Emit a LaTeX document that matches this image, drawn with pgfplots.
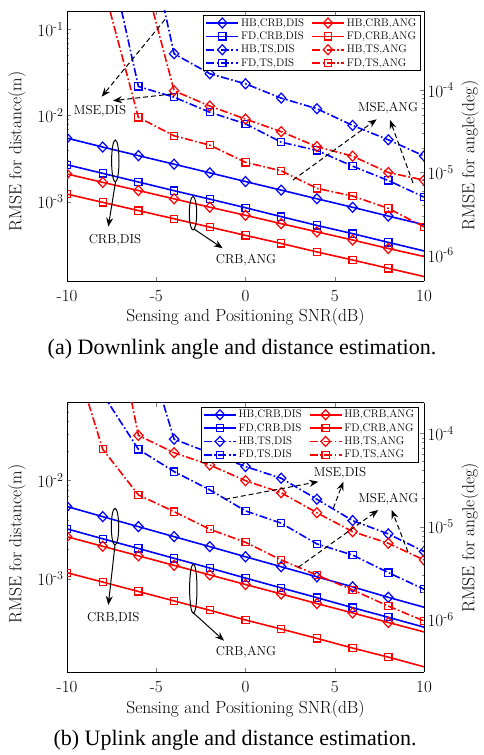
\documentclass[border=0pt]{standalone}
\usepackage{pgfplots}
\pgfplotsset{compat=1.18}
\usepackage{amsmath}
\usepackage{fontspec}
\newfontfamily\timesfont{Liberation Serif}
\usetikzlibrary{arrows.meta}
\tikzset{
 crb/.style={line width=1.6pt, solid},
 ts/.style={line width=1.6pt, dash pattern=on 8pt off 2.5pt on 1.6pt off 2.5pt},
 dm/.style={mark=diamond, mark size=5pt, mark options={solid, line width=1.2pt, xscale=1.25}},
 sq/.style={mark=square, mark size=3.6pt, mark options={solid, line width=1.2pt}},
 ann/.style={font=\fontsize{13}{15}\selectfont},
 sarr/.style={line width=1pt, -{Stealth[length=9pt,width=7pt,inset=3pt]}},
 darr/.style={line width=1pt, dash pattern=on 5pt off 3pt, -{Stealth[length=9pt,width=7pt,inset=3pt]}},
}
\newcommand{\ep}[1]{$10^{\text{-}#1}$}
\begin{document}
\begin{tikzpicture}[x=1pt,y=1pt]
\useasboundingbox (0,0) rectangle (483,755);

% ================= (a) =================
\begin{axis}[scale only axis, width=357pt, height=270pt, xmin=-10, xmax=10, ymode=log,
   clip marker paths=true, tick align=inside, major tick length=4pt, minor tick length=2.3pt,
   axis line style={line width=0.8pt},
   tick label style={font=\fontsize{17}{19}\selectfont},
   label style={font=\fontsize{17.5}{20}\selectfont},
   axis y line*=left, xtick={-10,-5,0,5,10}, xticklabels={-10,-5,0,5,10}, xticklabel style={yshift=-6pt},
   ytick={1e-3,1e-2,1e-1}, yticklabels={\ep{3},\ep{2},\ep{1}},
   xlabel={Sensing and Positioning SNR(dB)}, ylabel={RMSE for distance(m)},
   xlabel style={at={(axis description cs:0.5,0)}, anchor=center, yshift=-36pt},
   at={(67pt,474pt)}, anchor=south west, ymin=1.2e-4, ymax=0.163,
   ylabel style={at={(axis description cs:-0.14,0.48)}, anchor=center}]
\addplot[blue, crb, dm, mark indices={1,2,3,4,5,6,7,8,9,10}] coordinates {(-10,5.46e-3) (-8,4.3e-3) (-6,3.42e-3) (-4,2.72e-3) (-2,2.16e-3) (0,1.71e-3) (2,1.36e-3) (4,1.08e-3) (6,8.6e-4) (8,6.8e-4) (10,5.4e-4)};
\addplot[blue, crb, sq, mark indices={1,2,3,4,5,6,7,8,9,10}] coordinates {(-10,2.68e-3) (-8,2.13e-3) (-6,1.69e-3) (-4,1.34e-3) (-2,1.07e-3) (0,8.5e-4) (2,6.7e-4) (4,5.3e-4) (6,4.25e-4) (8,3.37e-4) (10,2.68e-4)};
\addplot[blue, ts, dm, mark indices={1,2,3,4,5,6,7,8}] coordinates {(-6,4.0) (-4,0.052) (-2,0.0305) (0,0.0233) (2,0.0159) (4,0.01197) (6,7.66e-3) (8,5.22e-3) (10,3.39e-3)};
\addplot[blue, ts, sq, mark indices={1,2,3,4,5,6,7,8,9}] coordinates {(-8,1.6) (-6,0.0217) (-4,0.0163) (-2,0.0109) (0,8.0e-3) (2,4.9e-3) (4,3.93e-3) (6,2.58e-3) (8,1.76e-3) (10,1.13e-3)};
\end{axis}
\begin{axis}[scale only axis, width=357pt, height=270pt, xmin=-10, xmax=10, ymode=log,
   clip marker paths=true, tick align=inside, major tick length=4pt, minor tick length=2.3pt,
   axis line style={line width=0.8pt},
   tick label style={font=\fontsize{17}{19}\selectfont},
   label style={font=\fontsize{17.5}{20}\selectfont},
   axis x line=none, axis y line*=right, ylabel={RMSE for angle(deg)},
   ytick={1e-6,1e-5,1e-4}, yticklabels={\ep{6},\ep{5},\ep{4}},
   legend columns=2, legend cell align=left,
   legend style={font=\fontsize{11}{12}\selectfont, draw=black, line width=0.6pt, fill=white,
     inner xsep=2pt, inner ysep=1pt, /tikz/every even column/.append style={column sep=5pt},
     at={(axis description cs:0.9908,0.985)}, anchor=north east},
   legend image code/.code={\draw[mark repeat=2,mark phase=2,#1] plot coordinates {(0pt,0pt) (16pt,0pt) (32pt,0pt)};},
   at={(67pt,474pt)}, anchor=south west, ymin=4.84e-7, ymax=9.1e-4,
   ylabel style={at={(axis description cs:1.129,0.465)}, anchor=center}]
\addplot[red, crb, dm, forget plot, mark indices={1,2,3,4,5,6,7,8,9,10}] coordinates {(-10,9.6e-6) (-8,7.6e-6) (-6,6.05e-6) (-4,4.8e-6) (-2,3.8e-6) (0,3.03e-6) (2,2.4e-6) (4,1.91e-6) (6,1.52e-6) (8,1.2e-6) (10,9.6e-7)};
\addplot[red, crb, sq, forget plot, mark indices={1,2,3,4,5,6,7,8,9,10}] coordinates {(-10,5.48e-6) (-8,4.35e-6) (-6,3.46e-6) (-4,2.75e-6) (-2,2.18e-6) (0,1.73e-6) (2,1.38e-6) (4,1.09e-6) (6,8.7e-7) (8,6.9e-7) (10,5.48e-7)};
\addplot[red, ts, dm, forget plot, mark indices={1,2,3,4,5,6,7,8}] coordinates {(-6,4.3e-3) (-4,9.8e-5) (-2,6.4e-5) (0,4.45e-5) (2,3.13e-5) (4,2.06e-5) (6,1.58e-5) (8,1.0e-5) (10,8.1e-6)};
\addplot[red, ts, sq, forget plot, mark indices={1,2,3,4,5,6,7,8,9}] coordinates {(-8,1.95e-3) (-6,4.67e-5) (-4,2.79e-5) (-2,2.15e-5) (0,1.33e-5) (2,1.05e-5) (4,6.43e-6) (6,5.19e-6) (8,3.68e-6) (10,2.2e-6)};
\addlegendimage{blue, crb, dm}\addlegendentry{HB,CRB,DIS}
\addlegendimage{red, crb, dm}\addlegendentry{HB,CRB,ANG}
\addlegendimage{blue, crb, sq}\addlegendentry{FD,CRB,DIS}
\addlegendimage{red, crb, sq}\addlegendentry{FD,CRB,ANG}
\addlegendimage{blue, ts, dm}\addlegendentry{HB,TS,DIS}
\addlegendimage{red, ts, dm}\addlegendentry{HB,TS,ANG}
\addlegendimage{blue, ts, sq}\addlegendentry{FD,TS,DIS}
\addlegendimage{red, ts, sq}\addlegendentry{FD,TS,ANG}
\end{axis}

% annotations (a)
\draw[line width=1pt] (115.3,594) ellipse (3.7 and 21);
\draw[sarr] (115.5,573) -- (108.3,528.3);
\node[ann] at (115,515) {CRB,DIS};
\draw[line width=1pt] (193,541.7) ellipse (3.7 and 16.7);
\draw[sarr] (194,526) -- (222.7,506.7);
\node[ann] at (246,495) {CRB,ANG};
\node[ann] at (100,644) {MSE,DIS};
\draw[darr] (165,735.5) -- (101.7,658.3);
\draw[darr] (172,661) -- (113,654.3);
\node[ann] at (388,647) {MSE,ANG};
\draw[darr] (293,575) -- (376.7,635.7);
\draw[darr] (413,572) -- (390,635);
\node[font=\timesfont\fontsize{22}{24}\selectfont] at (242,406) {(a) Downlink angle and distance estimation.};

% ================= (b) =================
\begin{axis}[scale only axis, width=357pt, height=269.3pt, xmin=-10, xmax=10, ymode=log,
   clip marker paths=true, tick align=inside, major tick length=4pt, minor tick length=2.3pt,
   axis line style={line width=0.8pt},
   tick label style={font=\fontsize{17}{19}\selectfont},
   label style={font=\fontsize{17.5}{20}\selectfont},
   axis y line*=left, xtick={-10,-5,0,5,10}, xticklabels={-10,-5,0,5,10}, xticklabel style={yshift=-6pt},
   ytick={1e-3,1e-2,1e-1}, yticklabels={\ep{3},\ep{2},\ep{1}},
   xlabel={Sensing and Positioning SNR(dB)}, ylabel={RMSE for distance(m)},
   xlabel style={at={(axis description cs:0.5,0)}, anchor=center, yshift=-37pt},
   at={(67pt,83pt)}, anchor=south west, ymin=1.13e-4, ymax=0.062,
   ylabel style={at={(axis description cs:-0.14,0.475)}, anchor=center}]
\addplot[blue, crb, dm, mark indices={1,2,3,4,5,6,7,8,9,10}] coordinates {(-10,5.45e-3) (-8,4.3e-3) (-6,3.4e-3) (-4,2.69e-3) (-2,2.13e-3) (0,1.68e-3) (2,1.33e-3) (4,1.05e-3) (6,8.3e-4) (8,6.5e-4) (10,5.15e-4)};
\addplot[blue, crb, sq, mark indices={1,2,3,4,5,6,7,8,9,10}] coordinates {(-10,3.23e-3) (-8,2.56e-3) (-6,2.04e-3) (-4,1.62e-3) (-2,1.29e-3) (0,1.02e-3) (2,8.1e-4) (4,6.45e-4) (6,5.1e-4) (8,4.07e-4) (10,3.23e-4)};
\addplot[blue, ts, dm, mark indices={1,2,3,4,5,6,7,8}] coordinates {(-6,0.42) (-4,0.0264) (-2,0.0191) (0,0.0139) (2,0.01057) (4,6.47e-3) (6,3.92e-3) (8,2.87e-3) (10,1.9e-3)};
\addplot[blue, ts, sq, mark indices={1,2,3,4,5,6,7,8,9}] coordinates {(-8,0.076) (-6,0.0208) (-4,0.01236) (-2,8.04e-3) (0,4.92e-3) (2,3.69e-3) (4,2.27e-3) (6,1.75e-3) (8,1.16e-3) (10,7.85e-4)};
\end{axis}
\begin{axis}[scale only axis, width=357pt, height=269.3pt, xmin=-10, xmax=10, ymode=log,
   clip marker paths=true, tick align=inside, major tick length=4pt, minor tick length=2.3pt,
   axis line style={line width=0.8pt},
   tick label style={font=\fontsize{17}{19}\selectfont},
   label style={font=\fontsize{17.5}{20}\selectfont},
   axis x line=none, axis y line*=right, ylabel={RMSE for angle(deg)},
   ytick={1e-6,1e-5,1e-4}, yticklabels={\ep{6},\ep{5},\ep{4}},
   legend columns=2, legend cell align=left,
   legend style={font=\fontsize{11}{12}\selectfont, draw=black, line width=0.6pt, fill=white,
     inner xsep=2pt, inner ysep=1pt, /tikz/every even column/.append style={column sep=5pt},
     at={(axis description cs:0.984,0.985)}, anchor=north east},
   legend image code/.code={\draw[mark repeat=2,mark phase=2,#1] plot coordinates {(0pt,0pt) (16pt,0pt) (32pt,0pt)};},
   at={(67pt,83pt)}, anchor=south west, ymin=2.77e-7, ymax=2.13e-4,
   ylabel style={at={(axis description cs:1.129,0.497)}, anchor=center}]
\addplot[red, crb, dm, forget plot, mark indices={1,2,3,4,5,6,7,8,9,10}] coordinates {(-10,7.8e-6) (-8,6.16e-6) (-6,4.87e-6) (-4,3.85e-6) (-2,3.04e-6) (0,2.4e-6) (2,1.9e-6) (4,1.5e-6) (6,1.19e-6) (8,9.4e-7) (10,7.45e-7)};
\addplot[red, crb, sq, forget plot, mark indices={1,2,3,4,5,6,7,8,9,10}] coordinates {(-10,3.21e-6) (-8,2.55e-6) (-6,2.02e-6) (-4,1.6e-6) (-2,1.27e-6) (0,1.0e-6) (2,8.0e-7) (4,6.35e-7) (6,5.0e-7) (8,4.0e-7) (10,3.15e-7)};
\addplot[red, ts, dm, forget plot, mark indices={1,2,3,4,5,6,7,8,9}] coordinates {(-8,7.6e-3) (-6,9.5e-5) (-4,6.2e-5) (-2,4.58e-5) (0,3.11e-5) (2,2.31e-5) (4,1.41e-5) (6,8.84e-6) (8,6.64e-6) (10,4.4e-6)};
\addplot[red, ts, sq, forget plot, mark indices={1,2,3,4,5,6,7,8,9,10}] coordinates {(-10,1.17e-3) (-8,6.76e-5) (-6,2.19e-5) (-4,1.45e-5) (-2,9.38e-6) (0,6.8e-6) (2,4.4e-6) (4,3.03e-6) (6,2.1e-6) (8,1.41e-6) (10,9.75e-7)};
\addlegendimage{blue, crb, dm}\addlegendentry{HB,CRB,DIS}
\addlegendimage{red, crb, dm}\addlegendentry{HB,CRB,ANG}
\addlegendimage{blue, crb, sq}\addlegendentry{FD,CRB,DIS}
\addlegendimage{red, crb, sq}\addlegendentry{FD,CRB,ANG}
\addlegendimage{blue, ts, dm}\addlegendentry{HB,TS,DIS}
\addlegendimage{red, ts, dm}\addlegendentry{HB,TS,ANG}
\addlegendimage{blue, ts, sq}\addlegendentry{FD,TS,DIS}
\addlegendimage{red, ts, sq}\addlegendentry{FD,TS,ANG}
\end{axis}

% annotations (b)
\draw[line width=1pt] (115,228.3) ellipse (3.7 and 18.3);
\draw[sarr] (115,210) -- (108.3,150);
\node[ann] at (113.3,136.7) {CRB,DIS};
\draw[line width=1pt] (193.3,166.3) ellipse (3.7 and 24.7);
\draw[sarr] (193.5,142) -- (224,114.3);
\node[ann] at (246,103.3) {CRB,ANG};
\node[ann] at (340,281.7) {MSE,DIS};
\draw[darr] (225,255.7) -- (318.3,273.3);
\draw[darr] (333.3,246.7) -- (343.3,273.3);
\node[ann] at (388.3,255.7) {MSE,ANG};
\draw[darr] (298.3,187.7) -- (378.3,245);
\draw[darr] (408,203) -- (391.7,245);
\node[font=\timesfont\fontsize{22}{24}\selectfont] at (235,15) {(b) Uplink angle and distance estimation.};
\end{tikzpicture}
\end{document}
